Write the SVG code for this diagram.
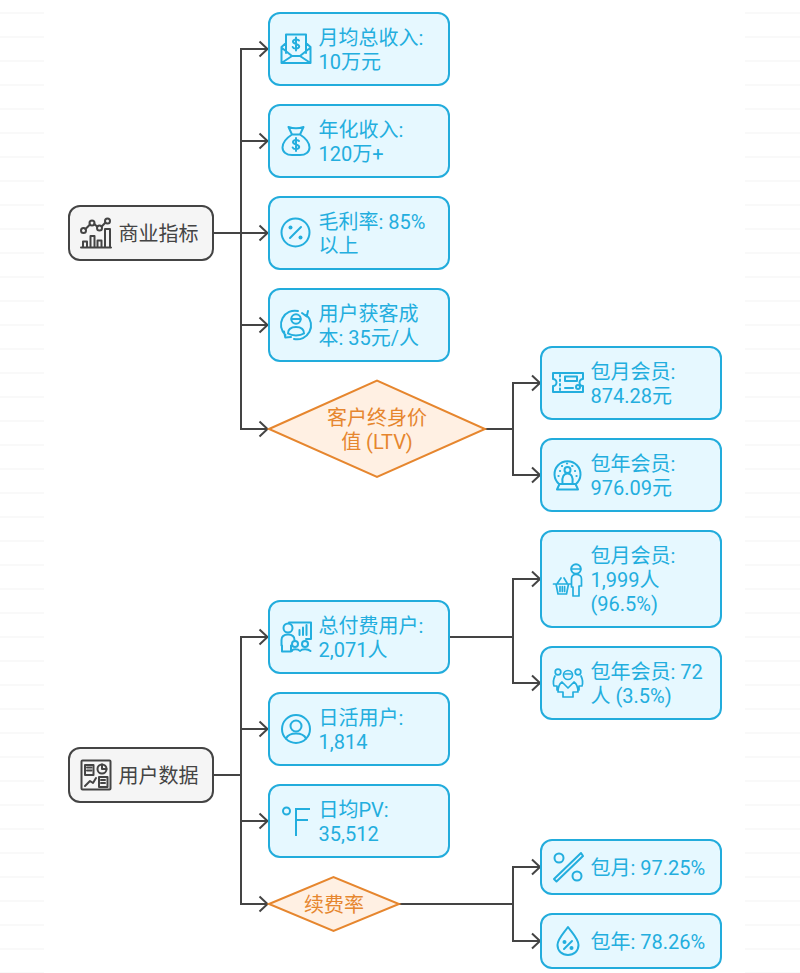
<svg xmlns="http://www.w3.org/2000/svg" width="800" height="973" viewBox="0 0 800 973">
<style>
.bg{fill:#fff}
.n rect.b{fill:#e6f8ff;stroke:#22acdc;stroke-width:2}
.r rect.b{fill:#f5f5f5;stroke:#444;stroke-width:2}
.d polygon{fill:#fff0e3;stroke:#e6862e;stroke-width:2}
text{font-family:Roboto,"Noto Sans CJK SC",sans-serif;font-size:20px}
.n text{fill:#23aede}
.r text{fill:#444}
.d text{fill:#e6862e;text-anchor:middle}
.i{fill:none;stroke:#23aede;stroke-width:2;stroke-linecap:round;stroke-linejoin:round}
.r .i{stroke:#444}
.f{fill:#23aede;stroke:none}
.r .f{fill:#444}
#connectors path{fill:none;stroke:#444;stroke-width:2}
</style>
<defs>
<pattern id="st" width="800" height="24" patternUnits="userSpaceOnUse" y="1"><rect y="11" width="800" height="2" fill="#f9f9f9"/></pattern>
<marker id="a" markerUnits="userSpaceOnUse" markerWidth="12" markerHeight="20" refX="9.5" refY="10" orient="auto" overflow="visible"><path d="M1.5 2.5L9.5 10L1.5 17.500" fill="none" stroke="#444" stroke-width="2"/></marker>
<path id="usd" d="M3 -3.500C2.300 -5 -2.800 -5.200 -3 -2.500C-3.200 .5 3.300 -.5 3.200 2.500C3 5 -2.500 5.200 -3.300 3M0 -6.500V6.500"/>
</defs>
<rect class="bg" width="800" height="973"/>
<rect width="44" height="973" fill="url(#st)"/>
<rect x="745" width="55" height="973" fill="url(#st)"/>

<g id="connectors">
<path d="M213 233H241"/><path d="M241 233V49H267.500" marker-end="url(#a)"/><path d="M241 233V141H267.500" marker-end="url(#a)"/><path d="M241 233H267.500" marker-end="url(#a)"/><path d="M241 233V325H267.500" marker-end="url(#a)"/><path d="M241 233V429H267.500" marker-end="url(#a)"/>
<path d="M485 429H513"/><path d="M513 429V383H540" marker-end="url(#a)"/><path d="M513 429V475H540" marker-end="url(#a)"/>
<path d="M213 775H241"/><path d="M241 775V637H267.500" marker-end="url(#a)"/><path d="M241 775V729H267.500" marker-end="url(#a)"/><path d="M241 775V821H267.500" marker-end="url(#a)"/><path d="M241 775V904H267.500" marker-end="url(#a)"/>
<path d="M449 637H513"/><path d="M513 637V579H540" marker-end="url(#a)"/><path d="M513 637V683H540" marker-end="url(#a)"/>
<path d="M399 904H513"/><path d="M513 904V867H540" marker-end="url(#a)"/><path d="M513 904V941H540" marker-end="url(#a)"/>
</g>

<g id="root1" class="r"><rect class="b" x="69" y="206" width="144" height="54" rx="11"/>
<g class="i"><circle cx="83.500" cy="230.500" r="2.500"/><circle cx="92" cy="223" r="2.500"/><circle cx="99.500" cy="228" r="2.500"/><circle cx="107.500" cy="221" r="2.500"/><path d="M85.500 229L90 224.500M94.300 224L97.300 226.700M101.700 226.500L105.500 222.500M81 247.500H111M83 247V241.500H87V247M90.500 247V236H94.500V247M97.500 247V240.500H101.500V247M105 247V229H110V247"/></g>
<text x="118.500" y="241">商业指标</text></g>

<g id="n1" class="n"><rect class="b" x="269" y="13" width="180" height="72" rx="11"/>
<g class="i"><path d="M286 53V34.500H306V53M286 43L281.500 47V63H310.500V47L306 43M282 48L292 56H300L310 48M283 62L292 56M309 62L300 56"/><use href="#usd" transform="translate(296 44)"/></g>
<text x="318.500" y="45">月均总收入:</text><text x="318.500" y="69">10万元</text></g>

<g id="n2" class="n"><rect class="b" x="269" y="105" width="180" height="72" rx="11"/>
<g class="i"><path d="M288.500 127Q296 129.500 303.500 127L300 134.500H292ZM292 134.500C285 139 282.500 144 282.500 147.500C282.500 152 286.500 155 292 155H300C305.500 155 309.500 152 309.500 147.500C309.500 144 307 139 300 134.500"/><use href="#usd" transform="translate(296 144.500)"/></g>
<text x="318.500" y="137">年化收入:</text><text x="318.500" y="161">120万+</text></g>

<g id="n3" class="n"><rect class="b" x="269" y="197" width="180" height="72" rx="11"/>
<g class="i"><circle cx="295.500" cy="232.500" r="14"/><path d="M301 227L290 238"/></g><circle class="f" cx="290.500" cy="227.500" r="2"/><circle class="f" cx="300.500" cy="237.500" r="2"/>
<text x="318.500" y="229">毛利率: 85%</text><text x="318.500" y="253">以上</text></g>

<g id="n4" class="n"><rect class="b" x="269" y="289" width="180" height="72" rx="11"/>
<g class="i"><path d="M285.500 335A14 14 0 0 1 298 311M306.500 315A14 14 0 0 1 294 339M302 313L306.700 316.500L308 311M284 331.500L285.300 337.500L291 337"/><circle cx="296" cy="319" r="4.700"/><path d="M291.500 319H300.500M288 333.500C288 329 291 327 296 327C301 327 304 329 304 333.500C300 336 292 336 288 333.500Z"/></g>
<text x="318.500" y="321">用户获客成</text><text x="318.500" y="345">本: 35元/人</text></g>

<g id="n5" class="d"><polygon points="269,429 377,380.500 485,429 377,477"/>
<text x="377" y="425">客户终身价</text><text x="377" y="449">值 (LTV)</text></g>

<g id="n6" class="n"><rect class="b" x="541" y="347" width="180" height="72" rx="11"/>
<g class="i"><path d="M553 373H583V379A3 3 0 0 0 583 386V392H553V386A3 3 0 0 0 553 379Z"/><path d="M560 375V390" stroke-dasharray="1.500 3"/><path d="M565 376.500H577V381H565ZM565 388H573"/><circle cx="578" cy="387" r="2"/></g>
<text x="590.500" y="379">包月会员:</text><text x="590.500" y="403">874.28元</text></g>

<g id="n7" class="n"><rect class="b" x="541" y="439" width="180" height="72" rx="11"/>
<g class="i"><path d="M559 484A13 13 0 1 1 576 484M557 489.500H578L575.500 484H559.500Z"/><circle cx="567.500" cy="470" r="3"/><path d="M562.500 483C561.500 477 564 473.500 567.500 473.500C571 473.500 573.500 477 572.500 483"/><path d="M560 471H560.100M562 466H562.100M567 463.500H567.100M572.500 466H572.100M575 471H575.100M558.500 476H558.600M576.500 476H576.600" stroke-width="2.200"/></g>
<text x="590.500" y="471">包年会员:</text><text x="590.500" y="495">976.09元</text></g>

<g id="n8" class="n"><rect class="b" x="269" y="601" width="180" height="72" rx="11"/>
<g class="i"><circle cx="288" cy="628" r="4.500"/><path d="M289 622.500H311V639H306M282 651V645.500H281.500V640C281.500 636 284 634.500 288 634.500C292 634.500 294.500 636 294.500 640M282 645.500V651.500H291V645.500"/><path d="M299.500 635V630M303 635V627.500M306.500 635V625"/><circle cx="295" cy="644" r="3"/><circle cx="305" cy="644" r="3"/><path d="M292 651C292 648.500 298 648.500 300 651C302 648.500 308 648.500 310.500 651"/></g>
<text x="318.500" y="633">总付费用户:</text><text x="318.500" y="657">2,071人</text></g>

<g id="n9" class="n"><rect class="b" x="269" y="693" width="180" height="72" rx="11"/>
<g class="i"><circle cx="296" cy="729" r="14"/><circle cx="296" cy="726" r="5.500"/><path d="M286 738.500C288 734.500 292 733.500 296 733.500C300 733.500 304 734.500 306 738.500"/></g>
<text x="318.500" y="725">日活用户:</text><text x="318.500" y="749">1,814</text></g>

<g id="n10" class="n"><rect class="b" x="269" y="785" width="180" height="72" rx="11"/>
<g class="i" style="stroke-linecap:butt;stroke-linejoin:miter"><circle cx="286.500" cy="811" r="3.500"/><path d="M310 809H296V836M296 820H308"/></g>
<text x="318.500" y="817">日均PV:</text><text x="318.500" y="841">35,512</text></g>

<g id="n11" class="d"><polygon points="269,904 333.500,877 399,904 333.500,931"/>
<text x="334" y="912">续费率</text></g>

<g id="n12" class="n"><rect class="b" x="541" y="531" width="180" height="96" rx="11"/>
<g class="i"><circle cx="576" cy="569" r="4.800"/><path d="M571.500 569H580.500M573 596V587H571.500V579C571.500 575.500 573.500 574.500 576 574.500C579 574.500 581.500 576 581.500 579V586H579V596ZM553.500 584H571M556 584L558 594H566.500L568.500 584M557.500 583L561 578M567 583L564 578M560 586.500V591.500M562.300 586.500V591.500M564.600 586.500V591.500" stroke-width="1.700"/></g>
<text x="590.500" y="563">包月会员:</text><text x="590.500" y="587">1,999人</text><text x="590.500" y="611">(96.5%)</text></g>

<g id="n13" class="n"><rect class="b" x="541" y="647" width="180" height="72" rx="11"/>
<g class="i" style="stroke-width:1.700"><circle cx="558" cy="672" r="2.800"/><circle cx="578" cy="672" r="2.800"/><circle cx="568" cy="675" r="4.500"/><path d="M565 674H571M555 676C553 680 553 683 554 686H557V690M581 676C583 680 583 683 582 686H579V690M562 682C559 684 558 689 558 692H563V697H573V692H578C578 689 577 684 574 682L568 688Z"/></g>
<text x="590.500" y="679">包年会员: 72</text><text x="590.500" y="703">人 (3.5%)</text></g>

<g id="n14" class="n"><rect class="b" x="541" y="840" width="180" height="54" rx="11"/>
<g class="i"><circle cx="559" cy="858" r="4.500"/><circle cx="577" cy="876" r="4.500"/><path d="M554 879L581 853L583 856L556.500 881.500Z"/></g>
<text x="590.500" y="875">包月: 97.25%</text></g>

<g id="n15" class="n"><rect class="b" x="541" y="914" width="180" height="54" rx="11"/>
<g class="i"><path d="M568 927C563 934 557.500 939 557.500 945C557.500 951 562 955 568 955C574 955 578.500 951 578.500 945C578.500 939 573 934 568 927Z"/><path d="M572 941L564 949"/></g><circle class="f" cx="564.500" cy="942" r="2"/><circle class="f" cx="571.500" cy="948" r="2"/>
<text x="590.500" y="949">包年: 78.26%</text></g>

<g id="root2" class="r"><rect class="b" x="69" y="748" width="144" height="54" rx="11"/>
<g class="i"><rect x="81.500" y="760.500" width="29" height="29" rx="1"/><rect x="85" y="765" width="8.500" height="10"/><circle cx="102" cy="769" r="4.500"/><path d="M102 769V764.500M102 769H106.500M85 786L90 781L93 783L96 778M87 767.500H91.500M87 770.500H91.500"/><rect x="99" y="777" width="8.500" height="10"/><path d="M101 780H105M101 783H105"/></g>
<text x="118.500" y="783">用户数据</text></g>
</svg>
